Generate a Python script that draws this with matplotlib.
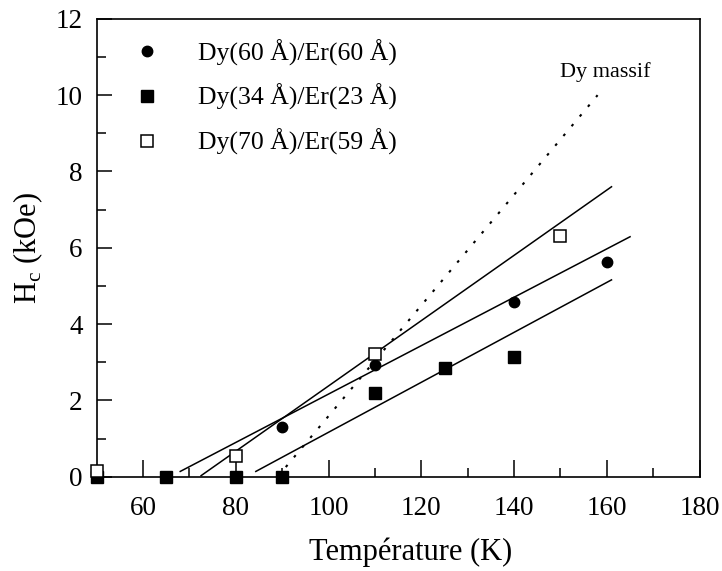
import matplotlib
matplotlib.use("Agg")
import matplotlib.pyplot as plt
from matplotlib.ticker import MultipleLocator

plt.rcParams['font.family'] = ['Liberation Serif', 'DejaVu Serif']
plt.rcParams['mathtext.fontset'] = 'custom'
plt.rcParams['mathtext.rm'] = 'Liberation Serif'

# data
t_circ = [90, 110, 140, 160]
h_circ = [1.3, 2.93, 4.57, 5.63]
t_fsq = [50, 65, 80, 90, 110, 125, 140]
h_fsq = [0.0, 0.0, 0.0, 0.0, 2.2, 2.84, 3.15]
t_osq = [50, 80, 110, 150]
h_osq = [0.15, 0.55, 3.22, 6.3]

# fitted lines (end points)
fit_circ_t = [68, 165]
fit_circ_h = [0.14, 6.29]
fit_fsq_t = [84.3, 161]
fit_fsq_h = [0.14, 5.16]
fit_osq_t = [72.5, 161]
fit_osq_h = [0.03, 7.6]
massif_t = [89, 158]
massif_h = [0.0, 10.0]

labels = ['Dy(60 Å)/Er(60 Å)', 'Dy(34 Å)/Er(23 Å)', 'Dy(70 Å)/Er(59 Å)']

fig = plt.figure(figsize=(7.22, 5.71), dpi=100)
ax = fig.add_axes([0.134, 0.165, 0.835, 0.802])

lw = 1.1
ax.plot(fit_osq_t, fit_osq_h, color='black', lw=lw)
ax.plot(fit_circ_t, fit_circ_h, color='black', lw=lw)
ax.plot(fit_fsq_t, fit_fsq_h, color='black', lw=lw)
ax.plot(massif_t, massif_h, color='black', lw=1.5, linestyle=(0, (1.3, 4.8)))

c, = ax.plot(t_circ, h_circ, 'o', color='black', ms=7.5, linestyle='none', clip_on=False, zorder=5)
fs, = ax.plot(t_fsq, h_fsq, 's', color='black', ms=8, linestyle='none', clip_on=False, zorder=5)
os_, = ax.plot(t_osq, h_osq, 's', mfc='white', mec='black', mew=1.1, ms=8,
               linestyle='none', clip_on=False, zorder=6)

ax.text(150, 10.6, 'Dy massif', fontsize=16, va='center', ha='left')

ax.legend([c, fs, os_], labels, loc='upper left', bbox_to_anchor=(0.032, 0.995),
          frameon=False, fontsize=18.5, handlelength=1.0, handletextpad=1.5,
          labelspacing=0.72, borderaxespad=0.3)

ax.set_xlim(50, 180)
ax.set_ylim(0, 12)
ax.xaxis.set_major_locator(MultipleLocator(20))
ax.xaxis.set_minor_locator(MultipleLocator(10))
ax.yaxis.set_major_locator(MultipleLocator(2))
ax.yaxis.set_minor_locator(MultipleLocator(1))
ax.set_xticks([60, 80, 100, 120, 140, 160, 180])
ax.tick_params(which='both', direction='in', top=False, right=False, labelsize=19.5)
ax.tick_params(axis='x', which='major', length=12, width=1.1, pad=14)
ax.tick_params(axis='y', which='major', length=11, width=1.1, pad=10)
ax.tick_params(which='minor', length=6.5, width=1.1)
for s in ax.spines.values():
    s.set_linewidth(1.2)

ax.set_xlabel('Température (K)', fontsize=22, labelpad=12)
ax.xaxis.label.set_x(0.52)
ax.set_ylabel(r'H$_{\rm c}$ (kOe)', fontsize=22, labelpad=8)

fig.savefig('out.png', dpi=100)
